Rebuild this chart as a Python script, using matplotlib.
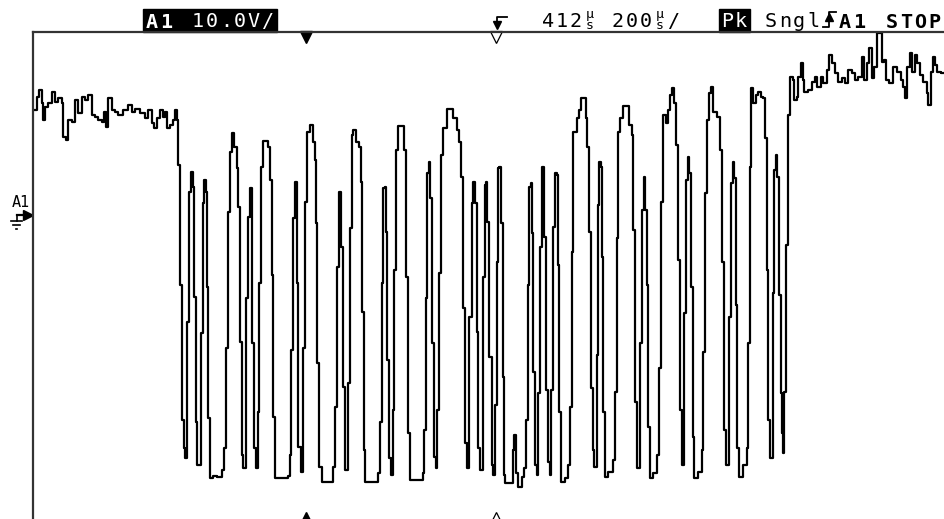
"""
Recreates a Fluke-style scope screenshot: a single-shot capture on channel A1
showing an idle-high line, a burst of pulses, and a return to idle.
"""

import numpy as np
import matplotlib
matplotlib.use("Agg")
import matplotlib.pyplot as plt
from matplotlib.patches import Rectangle

# Trace, in screen pixels (x = time, y = level, y grows down)
idle_left_x = [34, 36.7, 39.3, 41.7, 43.3, 45, 48.3, 51.7, 55, 58.3, 61.7, 63.3, 66, 68.3,
               71.7, 75, 78.3, 81.7, 85, 88.3, 91.7, 95, 98.3, 101.7, 104, 106, 108.3, 111.7,
               115, 118.3, 123.3, 128.3, 131.7, 135, 140, 145, 148.3, 151.7, 154, 156.7, 160,
               162.7, 165, 167.3, 170, 172.7, 175, 176.7]
idle_left_y = [110, 97, 90, 103, 120, 107, 103, 92, 102, 98, 103, 137, 140, 120,
               122, 100, 113, 97, 100, 95, 115, 117, 120, 122, 112, 127, 98, 110,
               112, 115, 110, 105, 112, 109, 113, 118, 110, 123, 128, 118, 110,
               117, 112, 128, 125, 120, 110, 120]

burst_x = [177.7, 180, 181.7, 184, 185,
           187, 187.5, 189, 190.7, 192.7, 194, 196, 197.3,
           200.7, 202.7, 204, 206, 206.7, 208.3, 210, 213, 217, 221.7, 224,
           226, 228.3, 230, 231.7, 234, 236.7, 238.3, 240, 241.7, 243.3,
           245.7, 247.7, 250, 251.7, 254, 256,
           257.7, 259.3, 261, 263.3, 267.3, 268.3, 270, 271.7, 273.3, 275, 283, 288.3, 290,
           291, 292.7, 295, 296.7, 298.3, 300.7,
           303.3, 305, 307.3, 310, 312.7, 315, 316, 317.3, 319.3, 321.7, 330, 333.3,
           335, 336.7, 339.3, 340.7, 342.7, 343.3, 345,
           348.3, 350, 351.7, 353.3, 356, 359.3, 360.7, 362.3, 364, 365, 376.7, 378.3, 380,
           381.7, 383.3, 385, 386, 387.3, 389.3, 391,
           392.7, 394.3, 396, 398.3, 402.7, 404, 406, 408.3, 410, 420.7, 422.7, 424.3,
           426, 427.3, 429.3, 430, 431.7, 434, 436,
           437.3, 439, 440.7, 442.7, 446.7, 451.7, 453.3, 457.3, 459.3, 461, 463.3, 465, 467.3,
           469.3, 471.7, 473.3, 475, 476.7, 478.3, 480,
           482.7, 484.7, 486, 487.3, 489.3, 491.7, 493.3,
           495, 496.7, 498.3, 499.3, 500.7, 502.7, 504, 505, 511.7, 512.7, 514.3, 516,
           518.3, 521.7, 524,
           526, 527.7, 529.3, 530.7, 532, 533.3, 535, 536.7,
           538.3, 540, 541.7, 543.3, 544.3, 546, 548.3, 550,
           551, 553.3, 555, 556.7, 557.7, 559.3, 561, 565, 568.3,
           570, 571.7, 573.3, 576.7, 579.3, 581, 585, 586, 587.3, 589, 590.7, 592.7, 594,
           596.7, 597.7, 599.3, 600.7, 601.7, 603.3, 605, 608.3, 613.3,
           615, 616.7, 618.3, 620, 623.3, 626.7, 629.3, 631.7, 633.3, 635, 636.7,
           640, 642.3, 644, 645, 646.7, 648.3, 650, 653.3, 656.7,
           659.3, 661, 663.3, 666, 668.3, 670, 672.3, 674.3, 676, 678.3, 680, 681.7,
           684, 686, 688.3, 689.3, 691, 692.7, 694.3, 698.3, 701.7,
           703.3, 705, 707.3, 709, 710.7, 713.3, 717.3, 720, 721.7, 724, 726,
           729, 730.7, 732.7, 734, 735.7, 737.3, 739, 743.3, 746.7,
           748.3, 750, 751, 751.7, 753.3, 756, 758.3, 760.7, 763.3, 765, 766.7, 768.3, 770,
           772.7, 774.3, 776, 777.3, 779.3, 780.7, 781.7, 783]
burst_y = [165, 285, 420, 448, 458,
           430, 322, 192, 172, 187, 297, 422, 465,
           333, 203, 180, 192, 287, 418, 478, 476, 477, 470, 448,
           348, 212, 152, 133, 147, 168, 207, 342, 455, 468,
           298, 217, 188, 343, 448, 468,
           412, 283, 167, 141, 141, 147, 180, 275, 417, 478, 478, 476, 455,
           350, 218, 182, 283, 447, 472,
           348, 202, 132, 125, 142, 160, 223, 363, 467, 482, 482, 467,
           407, 267, 192, 247, 247, 387, 470,
           383, 228, 135, 130, 142, 147, 182, 312, 450, 482, 482, 473, 422,
           283, 188, 187, 232, 360, 458, 475,
           410, 270, 150, 126, 126, 150, 277, 433, 480, 480, 473, 430,
           298, 173, 162, 198, 343, 457, 468,
           410, 273, 155, 128, 109, 109, 118, 130, 142, 177, 308, 443, 468,
           317, 203, 182, 203, 332, 448, 470,
           277, 185, 182, 222, 357, 465, 475,
           405, 262, 168, 167, 223, 377, 475, 483, 483, 450, 435, 473,
           487, 477, 468,
           420, 285, 187, 183, 233, 372, 465, 475,
           393, 247, 167, 167, 237, 390, 462, 475,
           390, 227, 173, 175, 265, 412, 482, 478, 465,
           407, 252, 132, 118, 110, 98, 98, 118, 147, 232, 388, 450, 467,
           355, 205, 162, 167, 257, 412, 477, 472, 460,
           392, 238, 132, 118, 106, 106, 125, 135, 230, 402, 468,
           343, 210, 177, 210, 285, 427, 478, 473, 455,
           368, 202, 115, 123, 110, 95, 88, 103, 145, 260, 410, 465,
           313, 180, 157, 173, 287, 437, 478, 472, 450,
           352, 193, 120, 93, 87, 112, 117, 150, 262, 430, 465,
           317, 183, 162, 178, 305, 448, 477, 465, 448,
           343, 167, 88, 88, 103, 95, 92, 97, 98, 138, 270, 420, 458,
           293, 170, 155, 177, 295, 393, 433, 453]

idle_right_x = [784, 786, 788.3, 790, 792.7, 794, 796.7, 798.3, 800.7, 802.7, 804, 808.3,
                811.7, 815, 817.3, 820.7, 823.3, 826.7, 829.3, 831.7, 835, 838.3, 841.7,
                845, 848.3, 851.7, 855, 858.3, 861.7, 864, 866.7, 869.3, 871.7, 874, 876.7,
                879.3, 881.7, 884, 886, 889.3, 892.7, 896.7, 900.7, 903.3, 905, 907.3, 910,
                911.7, 915, 917.3, 920, 923.3, 926.7, 928.3, 930.7, 932.7, 935, 937.3,
                940.7, 945]
idle_right_y = [392, 245, 115, 77, 80, 100, 97, 77, 63, 80, 92, 90,
                82, 77, 87, 77, 83, 70, 55, 63, 73, 82, 78,
                83, 70, 73, 80, 77, 57, 80, 63, 48, 78, 67, 33,
                33, 62, 60, 80, 83, 67, 72, 80, 87, 98, 67, 53,
                72, 55, 63, 75, 82, 93, 105, 72, 57, 65, 72,
                73, 73]

# Status line texts
CH_LABEL = "A1"
VOLT_DIV = "10.0V/"
TIME_TEXT = ["412", "200"]
ACQ_MODE = "Pk"
SWEEP = "Sngl"
TRIG_SRC = "A1"
RUN_STATE = "STOP"

TRIG_POS = 306   # filled marker
CURSOR_POS = 496  # hollow marker

MONO = "DejaVu Sans Mono"


def mono_text(ax, x0, y, text, pitch, size=14.5, color="black", weight="normal"):
    """Lay out text on a fixed character grid like the scope's pixel font."""
    for i, ch in enumerate(text):
        ax.text(x0 + pitch * (i + 0.5), y, ch, ha="center", va="baseline",
                family=MONO, fontsize=size, color=color, weight=weight)


def micro_seconds(ax, xc):
    """The scope draws 'us' as one stacked glyph (mu over s)."""
    ax.text(xc, 20, "\u00b5\ns", ha="center", va="center", ma="center",
            family=MONO, fontsize=9.5, linespacing=0.8)


def main():
    fig = plt.figure(figsize=(9.45, 5.19), dpi=100)
    ax = fig.add_axes([33 / 945, 0, 912 / 945, 487 / 519])
    ax.set_xlim(33, 945)
    ax.set_ylim(519, 32)
    ax.set_xticks([])
    ax.set_yticks([])
    for side in ["right", "bottom"]:
        ax.spines[side].set_visible(False)
    for side in ["left", "top"]:
        ax.spines[side].set_color("#333333")
        ax.spines[side].set_linewidth(1.6)

    x = np.concatenate([idle_left_x, burst_x, idle_right_x])
    y = np.concatenate([idle_left_y, burst_y, idle_right_y])
    ax.plot(x, y, color="black", lw=1.6, drawstyle="steps-post", clip_on=False)

    # trigger / cursor markers on the frame edges
    ax.plot([TRIG_POS], [37], marker="v", ms=9, color="black", clip_on=False)
    ax.plot([CURSOR_POS], [37], marker="v", ms=9, mfc="white", mec="black", mew=0.9,
            clip_on=False)
    ax.plot([TRIG_POS], [518], marker="^", ms=9, color="black", clip_on=False)
    ax.plot([CURSOR_POS], [518], marker="^", ms=9, mfc="white", mec="black", mew=0.9,
            clip_on=False)

    # status line
    ax.add_patch(Rectangle((143, 9), 134, 23, color="black", clip_on=False))
    mono_text(ax, 144, 28, CH_LABEL, 14.5, color="white", weight="bold")
    mono_text(ax, 191, 27, VOLT_DIV, 14, color="white")

    mono_text(ax, 541, 27, TIME_TEXT[0], 14)
    micro_seconds(ax, 590)
    mono_text(ax, 611, 27, TIME_TEXT[1], 14)
    micro_seconds(ax, 660)
    mono_text(ax, 667, 27, "/", 14)

    ax.add_patch(Rectangle((719, 9), 31, 23, color="black", clip_on=False))
    mono_text(ax, 720, 27, ACQ_MODE, 14, color="white")
    mono_text(ax, 764, 27, SWEEP, 14)

    # rising-edge trigger glyph
    ax.plot([823, 829, 829, 836], [27, 27, 12, 12], color="black", lw=1.3, clip_on=False)
    ax.plot([829], [17], marker="^", ms=6, color="black", clip_on=False)
    mono_text(ax, 837, 28, TRIG_SRC, 15, weight="bold")
    mono_text(ax, 885, 28, RUN_STATE, 14, weight="bold")

    # trigger-position glyph above the hollow marker
    ax.plot([507, 497, 497], [17, 17, 24], color="black", lw=1.3, clip_on=False)
    ax.plot([497], [25], marker="v", ms=6, color="black", clip_on=False)

    # channel A1 ground reference on the left
    mono_text(ax, 12, 207, CH_LABEL, 8, size=11)
    ax.plot([17, 26], [215, 215], color="black", lw=1.6, clip_on=False)
    ax.plot([28], [215], marker=">", ms=7, color="black", clip_on=False)
    ax.plot([17, 17], [215, 221], color="black", lw=1.2, clip_on=False)
    ax.plot([11, 22], [221, 221], color="black", lw=1.2, clip_on=False)
    ax.plot([13, 20], [225, 225], color="black", lw=1.2, clip_on=False)
    ax.plot([16, 17], [229, 229], color="black", lw=1.2, clip_on=False)

    fig.savefig("out.png", dpi=100, facecolor="white")


if __name__ == "__main__":
    main()
